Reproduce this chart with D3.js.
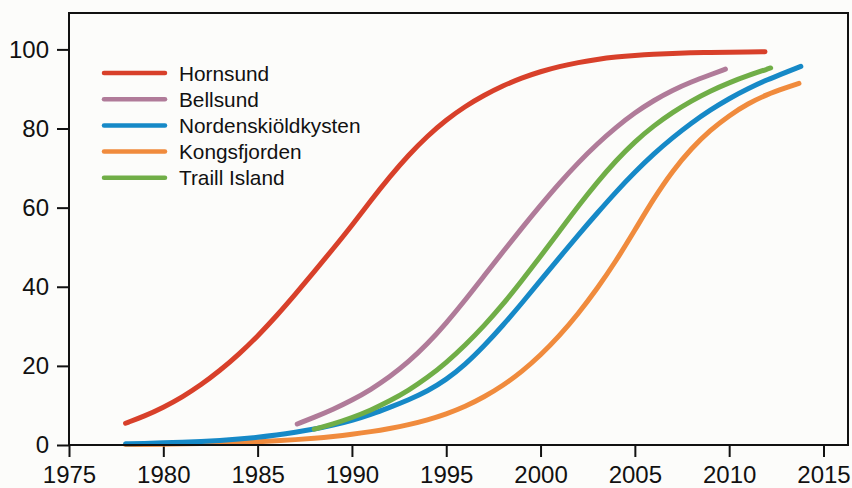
<!DOCTYPE html>
<html lang="en">

<head>
    <meta charset="UTF-8">
    <title>Cumulative curves</title>
    <script src="https://cdn.jsdelivr.net/npm/d3@7"></script>
    <style>
        body { margin: 0; background: #fcfcfa; }
        svg { display: block; font-family: 'Liberation Sans', Arial, sans-serif; }
    </style>
</head>

<body>
    <svg></svg>
</body>
<script>
    // values, [year, percent]
    const hornsund = [[1978, 5.5], [1979, 7.3], [1980, 9.5], [1981, 12.1], [1982, 15.2], [1983, 18.8], [1984, 22.9], [1985, 27.5], [1986, 32.6], [1987, 38.1], [1988, 43.8], [1989, 49.6], [1990, 55.5], [1991, 61.8], [1992, 67.8], [1993, 73.3], [1994, 78.1], [1995, 82.2], [1996, 85.6], [1997, 88.4], [1998, 90.8], [1999, 92.8], [2000, 94.4], [2001, 95.7], [2002, 96.7], [2003, 97.5], [2004, 98.1], [2005, 98.5], [2006, 98.8], [2007, 99.0], [2008, 99.15], [2009, 99.25], [2010, 99.3], [2011, 99.35], [2011.9, 99.4]];
    const bellsund = [[1987.1, 5.3], [1988, 7.0], [1989, 9.0], [1990, 11.3], [1991, 14.0], [1992, 17.2], [1993, 21.0], [1994, 25.5], [1995, 30.8], [1996, 36.6], [1997, 42.7], [1998, 48.8], [1999, 54.8], [2000, 60.6], [2001, 66.2], [2002, 71.4], [2003, 76.1], [2004, 80.3], [2005, 84.0], [2006, 87.1], [2007, 89.7], [2008, 91.8], [2009, 93.6], [2009.8, 95.0]];
    const nordenskiold = [[1978, 0.3], [1979, 0.4], [1980, 0.55], [1981, 0.7], [1982, 0.9], [1983, 1.15], [1984, 1.5], [1985, 1.95], [1986, 2.5], [1987, 3.2], [1988, 4.0], [1989, 5.0], [1990, 6.2], [1991, 7.7], [1992, 9.5], [1993, 11.4], [1994, 13.6], [1995, 16.5], [1996, 20.3], [1997, 25.0], [1998, 30.2], [1999, 35.8], [2000, 41.6], [2001, 47.4], [2002, 53.1], [2003, 58.6], [2004, 64.0], [2005, 69.0], [2006, 73.6], [2007, 77.7], [2008, 81.4], [2009, 84.7], [2010, 87.6], [2011, 90.1], [2012, 92.3], [2013, 94.2], [2013.8, 95.7]];
    const kongsfjorden = [[1978, 0.1], [1980, 0.2], [1982, 0.35], [1984, 0.6], [1985, 0.8], [1986, 1.05], [1987, 1.35], [1988, 1.7], [1989, 2.15], [1990, 2.7], [1991, 3.35], [1992, 4.15], [1993, 5.1], [1994, 6.3], [1995, 7.8], [1996, 9.7], [1997, 12.1], [1998, 15.0], [1999, 18.5], [2000, 22.7], [2001, 27.6], [2002, 33.2], [2003, 39.5], [2004, 46.5], [2005, 54.3], [2006, 62.3], [2007, 69.3], [2008, 75.0], [2009, 79.6], [2010, 83.3], [2011, 86.3], [2012, 88.6], [2013, 90.3], [2013.7, 91.4]];
    const traill = [[1988, 4.0], [1989, 5.3], [1990, 6.9], [1991, 8.8], [1992, 11.1], [1993, 13.8], [1994, 17.0], [1995, 20.8], [1996, 25.2], [1997, 30.1], [1998, 35.5], [1999, 41.5], [2000, 47.7], [2001, 54.0], [2002, 60.4], [2003, 66.4], [2004, 71.9], [2005, 76.7], [2006, 80.7], [2007, 84.1], [2008, 87.0], [2009, 89.5], [2010, 91.6], [2011, 93.4], [2012.2, 95.3]];

    const names = ['Hornsund', 'Bellsund', 'Nordenskiöldkysten', 'Kongsfjorden', 'Traill Island'];
    const colors = ['#d8402a', '#b07b99', '#1689c7', '#f08b3d', '#70ae47'];
    const seriesData = [hornsund, bellsund, nordenskiold, kongsfjorden, traill];

    const xTicks = [1975, 1980, 1985, 1990, 1995, 2000, 2005, 2010, 2015];
    const yTicks = [0, 20, 40, 60, 80, 100];

    const width = 852, height = 488;
    const mLeft = 69, mRight = 848, mTop = 13, mBottom = 445;

    const svg = d3.select('svg')
        .attr('width', width)
        .attr('height', height);

    const x = d3.scaleLinear().domain([1975, 2016.3]).range([mLeft, mRight]);
    const y = d3.scaleLinear().domain([0, 109.2]).range([mBottom, mTop]);

    // axes (domain line replaced by the frame)
    const yAxis = svg.append('g')
        .attr('transform', `translate(${mLeft},0)`)
        .call(d3.axisLeft(y).tickValues(yTicks).tickSize(12).tickPadding(8).tickFormat(d3.format('d')));
    const xAxis = svg.append('g')
        .attr('transform', `translate(0,${mBottom})`)
        .call(d3.axisBottom(x).tickValues(xTicks).tickSize(12).tickPadding(9).tickFormat(d3.format('d')));

    [yAxis, xAxis].forEach(a => {
        a.select('.domain').remove();
        a.selectAll('line').attr('stroke', '#111').attr('stroke-width', 2);
        a.selectAll('text').attr('fill', '#111').style('font-size', '24px');
    });

    // curves, drawn bottom-up so the upper ones sit on top
    const line = d3.line()
        .x(d => x(d[0]))
        .y(d => y(d[1]))
        .curve(d3.curveBasis);

    const drawOrder = [3, 2, 4, 1, 0];
    svg.append('g')
        .selectAll('path')
        .data(drawOrder)
        .join('path')
        .attr('d', i => line(seriesData[i]))
        .attr('fill', 'none')
        .attr('stroke', i => colors[i])
        .attr('stroke-width', 5)
        .attr('stroke-linecap', 'round');

    // frame
    svg.append('rect')
        .attr('x', mLeft)
        .attr('y', mTop)
        .attr('width', mRight - mLeft)
        .attr('height', mBottom - mTop)
        .attr('fill', 'none')
        .attr('stroke', '#111')
        .attr('stroke-width', 2);

    // legend
    const legend = svg.append('g')
        .selectAll('g')
        .data(names)
        .join('g')
        .attr('transform', (d, i) => `translate(104,${73 + i * 26.2})`);
    legend.append('line')
        .attr('x2', 61)
        .attr('stroke', (d, i) => colors[i])
        .attr('stroke-width', 4.5)
        .attr('stroke-linecap', 'round');
    legend.append('text')
        .attr('x', 75)
        .attr('dy', '0.36em')
        .attr('fill', '#111')
        .style('font-size', '20.8px')
        .text(d => d);
</script>

</html>
